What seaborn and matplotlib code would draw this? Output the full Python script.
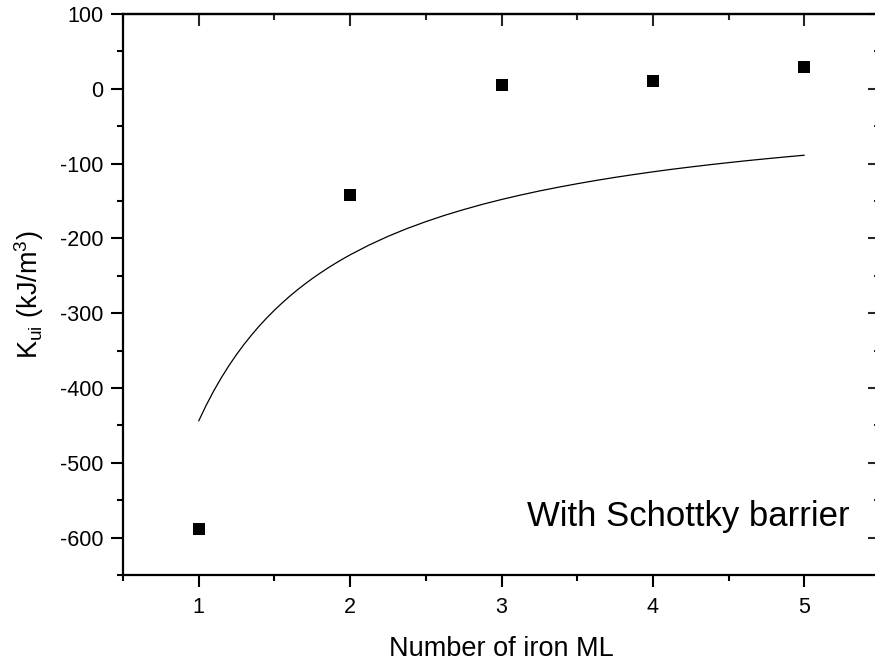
import numpy as np
import pandas as pd
import matplotlib
matplotlib.use("Agg")
import matplotlib.pyplot as plt
from matplotlib.ticker import MultipleLocator
import seaborn as sns

# Measured anisotropy per iron monolayer count
layers = [1, 2, 3, 4, 5]
k_measured = [-588, -142, 5, 10, 29]

# Model curve (with Schottky barrier)
model_x = [1.0, 1.05, 1.1, 1.15, 1.2, 1.25, 1.3, 1.35, 1.4, 1.45, 1.5, 1.55,
           1.6, 1.65, 1.7, 1.75, 1.8, 1.85, 1.9, 1.95, 2.0, 2.125, 2.25,
           2.375, 2.5, 2.625, 2.75, 2.875, 3.0, 3.125, 3.25, 3.375, 3.5,
           3.625, 3.75, 3.875, 4.0, 4.125, 4.25, 4.375, 4.5, 4.625, 4.75,
           4.875, 5.0]
model_k = [-444.0, -422.9, -403.6, -386.1, -370.0, -355.2, -341.5, -328.9,
           -317.1, -306.2, -296.0, -286.5, -277.5, -269.1, -261.2, -253.7,
           -246.7, -240.0, -233.7, -227.7, -222.0, -208.9, -197.3, -186.9,
           -177.6, -169.1, -161.5, -154.4, -148.0, -142.1, -136.6, -131.6,
           -126.9, -122.5, -118.4, -114.6, -111.0, -107.6, -104.5, -101.5,
           -98.7, -96.0, -93.5, -91.1, -88.8]

x_ticks = [1, 2, 3, 4, 5]
y_ticks = [100, 0, -100, -200, -300, -400, -500, -600]

sns.set_theme(style="white")
plt.rcParams["font.family"] = ["Liberation Sans", "DejaVu Sans"]
plt.rcParams["mathtext.default"] = "regular"

fig = plt.figure(figsize=(8.75, 6.64), dpi=100)
ax = fig.add_axes([123 / 875, 89 / 664, 757 / 875, 561 / 664])

points = pd.DataFrame({"layers": layers, "k": k_measured})
curve = pd.DataFrame({"x": model_x, "k": model_k})

sns.lineplot(data=curve, x="x", y="k", ax=ax, color="black", linewidth=0.9,
             sort=False)
sns.scatterplot(data=points, x="layers", y="k", ax=ax, marker="s", s=64,
                color="black", edgecolor="black", linewidth=0)

ax.set_xlim(0.5, 5.5)
ax.set_ylim(-650, 100)
ax.set_xticks(x_ticks)
ax.set_xticklabels([str(v) for v in x_ticks])
ax.set_yticks(y_ticks)
ax.set_yticklabels([str(v) for v in y_ticks])
ax.xaxis.set_minor_locator(MultipleLocator(0.5))
ax.yaxis.set_minor_locator(MultipleLocator(50))

for side in ["left", "right", "top", "bottom"]:
    ax.spines[side].set_visible(True)
    ax.spines[side].set_color("black")
    ax.spines[side].set_linewidth(1.6)

ax.tick_params(axis="both", which="major", length=8.6, width=1.5,
               color="black", labelsize=15.5, labelcolor="black", pad=5.5)
ax.tick_params(axis="both", which="minor", length=4.3, width=1.5,
               color="black")
ax.tick_params(axis="x", which="both", direction="out", bottom=True, top=False)
ax.tick_params(axis="y", which="both", direction="out", left=True, right=False)
ax.tick_params(axis="x", which="major", pad=7)

# inward ticks on the opposite sides
top = ax.secondary_xaxis("top")
top.set_xticks(x_ticks)
top.xaxis.set_minor_locator(MultipleLocator(0.5))
top.tick_params(which="major", direction="in", length=8.6, width=1.5,
                labeltop=False)
top.tick_params(which="minor", direction="in", length=4.3, width=1.5)
top.spines["top"].set_linewidth(1.6)
right = ax.secondary_yaxis("right")
right.set_yticks(y_ticks)
right.yaxis.set_minor_locator(MultipleLocator(50))
right.tick_params(which="major", direction="in", length=8.6, width=1.5,
                  labelright=False)
right.tick_params(which="minor", direction="in", length=4.3, width=1.5)
right.spines["right"].set_linewidth(1.6)

ax.set_xlabel("Number of iron ML", fontsize=19.5, color="black", labelpad=13)
ax.set_ylabel(r"K$_{ui}$ (kJ/m$^{3}$)", fontsize=19.5, color="black",
              labelpad=10)

ax.text(3.167, -584, "With Schottky barrier", fontsize=25, color="black",
        ha="left", va="baseline")

fig.savefig("out.png", dpi=100)
